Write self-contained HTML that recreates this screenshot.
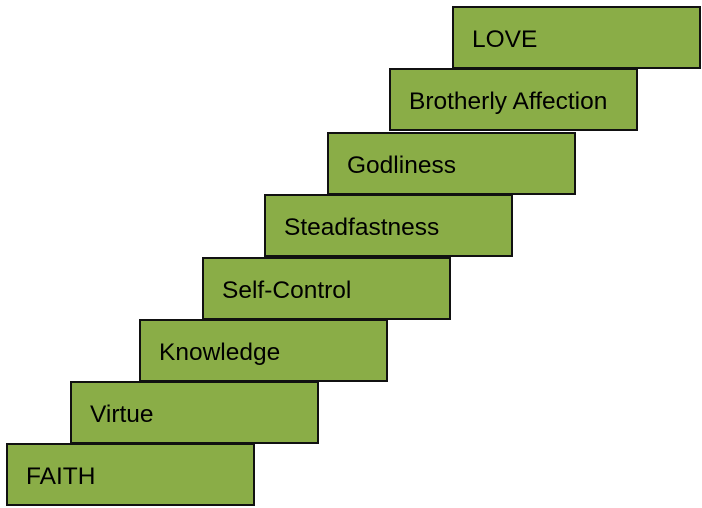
<!DOCTYPE html>
<html><head><meta charset="utf-8"><style>
html,body{margin:0;padding:0;background:#fff;width:702px;height:508px;overflow:hidden;position:relative}
.b{position:absolute;width:245px;height:59px;background:#8aad47;border:2px solid #111;box-sizing:content-box;
font-family:"Liberation Sans",sans-serif;font-size:24.5px;color:#000;line-height:59px;text-indent:18px;white-space:nowrap;}
.b span{position:relative;top:2px}
</style></head><body>
<div class="b" style="left:6px;top:443px"><span>FAITH</span></div>
<div class="b" style="left:70px;top:381px"><span>Virtue</span></div>
<div class="b" style="left:139px;top:319px"><span>Knowledge</span></div>
<div class="b" style="left:202px;top:257px"><span>Self-Control</span></div>
<div class="b" style="left:264px;top:194px"><span>Steadfastness</span></div>
<div class="b" style="left:327px;top:132px"><span>Godliness</span></div>
<div class="b" style="left:389px;top:68px"><span>Brotherly Affection</span></div>
<div class="b" style="left:452px;top:6px"><span>LOVE</span></div>
</body></html>
